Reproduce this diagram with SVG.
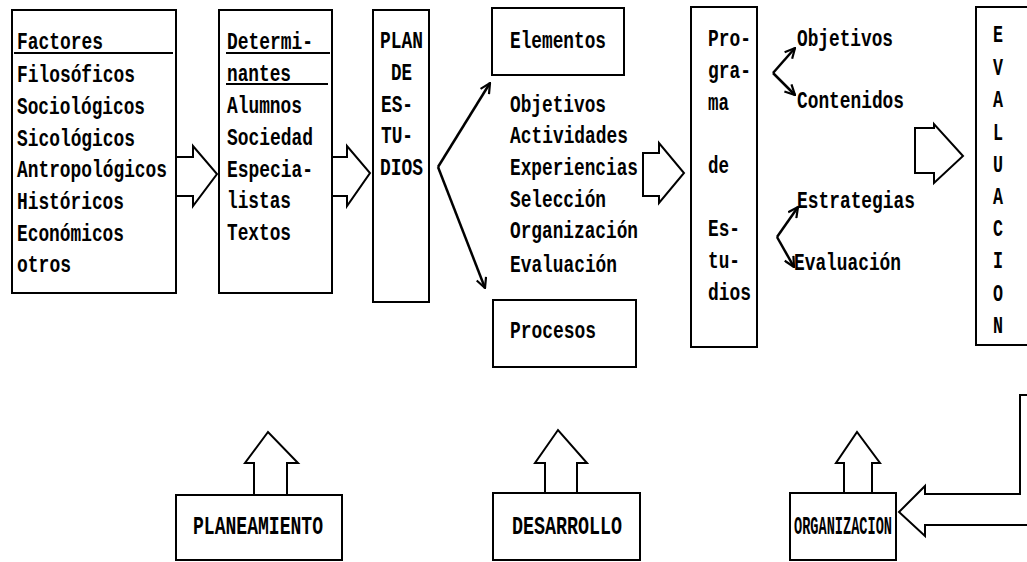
<svg xmlns="http://www.w3.org/2000/svg" width="1027" height="562" viewBox="0 0 1027 562">
<defs>
<style>
.box{fill:#fff;stroke:#000;stroke-width:2}
.blk{fill:#fff;stroke:#000;stroke-width:2;stroke-linejoin:miter}
.ln{fill:none;stroke:#000;stroke-width:2.5}
.ul{stroke:#000;stroke-width:2}
text{font-family:"Liberation Mono","DejaVu Sans Mono",monospace;font-weight:bold;font-size:23px;fill:#000}
.lb{font-size:26px}
.v{text-anchor:middle}
</style>
<marker id="ah" viewBox="0 0 12 12" refX="11" refY="6" markerWidth="12" markerHeight="12" markerUnits="userSpaceOnUse" orient="auto">
<path d="M1,1 L11,6 L1,11" fill="none" stroke="#000" stroke-width="2.2"/>
</marker>
</defs>
<rect width="1027" height="562" fill="#fff"/>

<g id="factores">
<rect class="box" x="12" y="10" width="164" height="283"/>
<line class="ul" x1="14" y1="53" x2="173" y2="53"/>
<text x="17" y="49" textLength="86" lengthAdjust="spacingAndGlyphs">Factores</text>
<text x="17" y="82" textLength="118" lengthAdjust="spacingAndGlyphs">Filosóficos</text>
<text x="17" y="114" textLength="128" lengthAdjust="spacingAndGlyphs">Sociológicos</text>
<text x="17" y="146" textLength="118" lengthAdjust="spacingAndGlyphs">Sicológicos</text>
<text x="17" y="177" textLength="150" lengthAdjust="spacingAndGlyphs">Antropológicos</text>
<text x="17" y="209" textLength="107" lengthAdjust="spacingAndGlyphs">Históricos</text>
<text x="17" y="241" textLength="107" lengthAdjust="spacingAndGlyphs">Económicos</text>
<text x="17" y="272" textLength="54" lengthAdjust="spacingAndGlyphs">otros</text>
</g>

<g id="determinantes">
<rect class="box" x="219" y="10" width="113" height="283"/>
<line class="ul" x1="226" y1="53" x2="330" y2="53"/>
<line class="ul" x1="226" y1="84" x2="328" y2="84"/>
<text x="227" y="49" textLength="86" lengthAdjust="spacingAndGlyphs">Determi-</text>
<text x="227" y="81" textLength="64" lengthAdjust="spacingAndGlyphs">nantes</text>
<text x="227" y="113" textLength="75" lengthAdjust="spacingAndGlyphs">Alumnos</text>
<text x="227" y="145" textLength="86" lengthAdjust="spacingAndGlyphs">Sociedad</text>
<text x="227" y="177" textLength="86" lengthAdjust="spacingAndGlyphs">Especia-</text>
<text x="227" y="208" textLength="64" lengthAdjust="spacingAndGlyphs">listas</text>
<text x="227" y="240" textLength="64" lengthAdjust="spacingAndGlyphs">Textos</text>
</g>

<g id="plan">
<rect class="box" x="373" y="10" width="56" height="292"/>
<text x="380" y="48" textLength="43" lengthAdjust="spacingAndGlyphs">PLAN</text>
<text x="391" y="80" textLength="21" lengthAdjust="spacingAndGlyphs">DE</text>
<text x="381" y="112" textLength="32" lengthAdjust="spacingAndGlyphs">ES-</text>
<text x="381" y="143" textLength="32" lengthAdjust="spacingAndGlyphs">TU-</text>
<text x="380" y="175" textLength="43" lengthAdjust="spacingAndGlyphs">DIOS</text>
</g>

<g id="elementos">
<rect class="box" x="492" y="8" width="132" height="67"/>
<text x="510" y="48" textLength="96" lengthAdjust="spacingAndGlyphs">Elementos</text>
</g>

<g id="lista">
<text x="510" y="112" textLength="96" lengthAdjust="spacingAndGlyphs">Objetivos</text>
<text x="510" y="143" textLength="118" lengthAdjust="spacingAndGlyphs">Actividades</text>
<text x="510" y="175" textLength="128" lengthAdjust="spacingAndGlyphs">Experiencias</text>
<text x="510" y="207" textLength="96" lengthAdjust="spacingAndGlyphs">Selección</text>
<text x="510" y="238" textLength="128" lengthAdjust="spacingAndGlyphs">Organización</text>
<text x="510" y="272" textLength="107" lengthAdjust="spacingAndGlyphs">Evaluación</text>
</g>

<g id="procesos">
<rect class="box" x="493" y="300" width="143" height="67"/>
<text x="510" y="338" textLength="86" lengthAdjust="spacingAndGlyphs">Procesos</text>
</g>

<g id="programa">
<rect class="box" x="691" y="7" width="66" height="340"/>
<text x="708" y="46" textLength="43" lengthAdjust="spacingAndGlyphs">Pro-</text>
<text x="708" y="78" textLength="43" lengthAdjust="spacingAndGlyphs">gra-</text>
<text x="708" y="110" textLength="21" lengthAdjust="spacingAndGlyphs">ma</text>
<text x="708" y="173" textLength="21" lengthAdjust="spacingAndGlyphs">de</text>
<text x="708" y="236" textLength="32" lengthAdjust="spacingAndGlyphs">Es-</text>
<text x="708" y="268" textLength="32" lengthAdjust="spacingAndGlyphs">tu-</text>
<text x="708" y="300" textLength="43" lengthAdjust="spacingAndGlyphs">dios</text>
</g>

<g id="componentes">
<text x="797" y="46" textLength="96" lengthAdjust="spacingAndGlyphs">Objetivos</text>
<text x="797" y="108" textLength="107" lengthAdjust="spacingAndGlyphs">Contenidos</text>
<text x="797" y="208" textLength="118" lengthAdjust="spacingAndGlyphs">Estrategias</text>
<text x="794" y="270" textLength="107" lengthAdjust="spacingAndGlyphs">Evaluación</text>
</g>

<g id="evaluacion">
<polyline class="box" points="1030,7 976,7 976,345 1030,345"/>
<text class="v" x="998" y="42" textLength="10" lengthAdjust="spacingAndGlyphs">E</text>
<text class="v" x="998" y="75" textLength="10" lengthAdjust="spacingAndGlyphs">V</text>
<text class="v" x="998" y="107" textLength="10" lengthAdjust="spacingAndGlyphs">A</text>
<text class="v" x="998" y="140" textLength="10" lengthAdjust="spacingAndGlyphs">L</text>
<text class="v" x="998" y="172" textLength="10" lengthAdjust="spacingAndGlyphs">U</text>
<text class="v" x="998" y="204" textLength="10" lengthAdjust="spacingAndGlyphs">A</text>
<text class="v" x="998" y="236" textLength="10" lengthAdjust="spacingAndGlyphs">C</text>
<text class="v" x="998" y="268" textLength="10" lengthAdjust="spacingAndGlyphs">I</text>
<text class="v" x="998" y="301" textLength="10" lengthAdjust="spacingAndGlyphs">O</text>
<text class="v" x="998" y="333" textLength="10" lengthAdjust="spacingAndGlyphs">N</text>
</g>

<g id="planeamiento">
<rect class="box" x="176" y="495" width="166" height="65"/>
<text class="lb" x="193" y="534" textLength="130" lengthAdjust="spacingAndGlyphs">PLANEAMIENTO</text>
</g>

<g id="desarrollo">
<rect class="box" x="493" y="493" width="147" height="67"/>
<text class="lb" x="512" y="534" textLength="110" lengthAdjust="spacingAndGlyphs">DESARROLLO</text>
</g>

<g id="organizacion">
<rect class="box" x="790" y="493" width="106" height="67"/>
<text class="lb" x="794" y="534" textLength="98" lengthAdjust="spacingAndGlyphs">ORGANIZACION</text>
</g>

<g id="connectors">
<polygon class="blk" points="176,157 193,157 193,146 217,174 193,206 193,196 176,196"/>
<polygon class="blk" points="332,157 347,157 347,146 370,173 347,206 347,196 332,196"/>
<polygon class="blk" points="643,153 659,153 659,143 684,173 659,203 659,196 643,196"/>
<polygon class="blk" points="915,128 934,128 934,124 963,156 934,183 934,173 915,173"/>
<path class="ln" d="M438,167 L490,83" marker-end="url(#ah)"/>
<path class="ln" d="M438,167 L485,288" marker-end="url(#ah)"/>
<path class="ln" d="M773,73 L795,48" marker-end="url(#ah)"/>
<path class="ln" d="M773,73 L795,95" marker-end="url(#ah)"/>
<path class="ln" d="M777,237 L798,207" marker-end="url(#ah)"/>
<path class="ln" d="M777,237 L794,267" marker-end="url(#ah)"/>
<polygon class="blk" points="254,495 254,463 245,463 268,432 298,463 287,463 287,495"/>
<polygon class="blk" points="545,493 545,463 535,463 558,430 587,463 577,463 577,493"/>
<polygon class="blk" points="844,493 844,463 836,463 857,432 880,463 872,463 872,493"/>
<polyline class="blk" points="1030,395 1020,395 1020,494 925,494 925,486 899,512 925,536 925,525 1030,525"/>
</g>
</svg>
